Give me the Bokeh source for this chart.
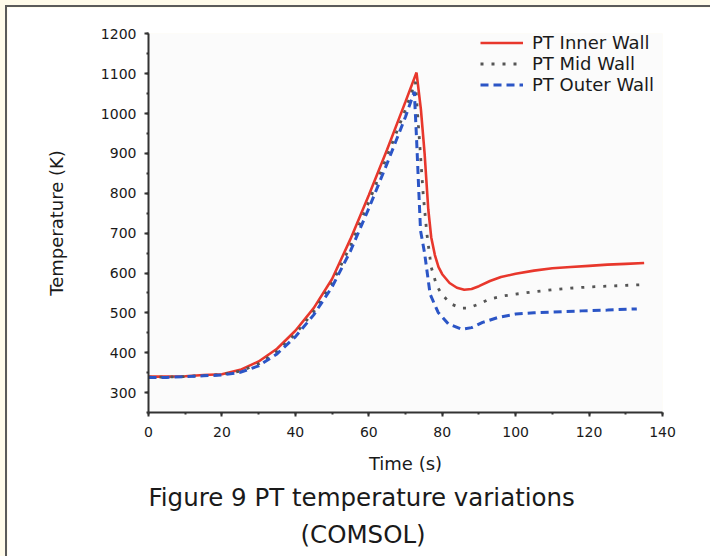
from bokeh.plotting import figure
from bokeh.models import Range1d, Legend, LegendItem, Title, FixedTicker, GlobalInlineStyleSheet
from bokeh.embed import file_html
from bokeh.resources import INLINE

# ---- data ----
t_inner = [0, 5, 10, 15, 20, 25, 30, 35, 40, 45, 50, 55, 60, 65, 70, 73.0, 74.2, 75.2, 76.2, 77,
           78, 79, 80, 82, 84, 86, 88, 90, 93, 96, 100, 105, 110, 115, 120, 125, 130, 135]
T_inner = [340, 340, 341, 344, 346, 357, 378, 410, 455, 512, 585, 685, 795, 910, 1030, 1103, 1010, 900, 760, 690,
           645, 615, 597, 575, 563, 558, 560, 567, 580, 590, 598, 606, 612, 615, 618, 621, 623, 625]

t_mid = [0, 5, 10, 15, 20, 25, 30, 35, 40, 45, 50, 55, 60, 65, 70, 72.7, 73.4, 74.2, 74.8, 75.8, 77,
         78.5, 80, 82.5, 85, 87, 90, 93, 97, 100, 105, 110, 115, 120, 125, 130, 135]
T_mid = [339, 339, 340, 343, 345, 354, 372, 403, 447, 503, 574, 668, 778, 893, 1010, 1080, 985, 880, 800, 700, 615,
         568, 545, 522, 512, 512, 522, 535, 543, 547, 553, 558, 562, 565, 567, 569, 571]

t_outer = [0, 5, 10, 15, 20, 25, 30, 35, 40, 45, 50, 55, 60, 65, 70, 72.4, 73.0, 73.6, 74.1, 75.2, 76.7,
           78.9, 81.7, 85.3, 88, 91, 95, 100, 105, 110, 118, 125, 133]
T_outer = [338, 338, 340, 342, 344, 351, 367, 397, 440, 495, 565, 655, 762, 875, 992, 1055, 940, 810, 706, 650, 547,
           501, 472, 459, 463, 476, 488, 497, 500, 502, 505, 507, 510]

series_names = ["PT Inner Wall", "PT Mid Wall", "PT Outer Wall"]
x_ticks = [0, 20, 40, 60, 80, 100, 120, 140]
y_ticks = [300, 400, 500, 600, 700, 800, 900, 1000, 1100, 1200]
caption_1 = "Figure 9 PT temperature variations"
caption_2 = "(COMSOL)"

FONT = "DejaVu Sans"

p = figure(width=705, height=551, output_backend="svg", toolbar_location=None,
           x_range=Range1d(0, 140), y_range=Range1d(250, 1201),
           min_border_left=141, min_border_right=50, min_border_top=26, min_border_bottom=146,
           background_fill_color="#fbfbfb", border_fill_color="#ffffff")
p.margin = (5, 0, 0, 5)
p.styles = {"border-top": "2px solid #5a5a5a", "border-left": "2px solid #5a5a5a"}
p.stylesheets = [GlobalInlineStyleSheet(css="html, body { background: #fffbea; }")]
p.outline_line_color = None
p.grid.visible = False

r1 = p.line(t_inner, T_inner, line_color="#e8372c", line_width=2.6)
r2 = p.line(t_mid, T_mid, line_color="#555555", line_width=2.8, line_dash="3 8")
r3 = p.line(t_outer, T_outer, line_color="#2b55c6", line_width=3, line_dash="8 5")

legend = Legend(items=[LegendItem(label=series_names[0], renderers=[r1]),
                       LegendItem(label=series_names[1], renderers=[r2]),
                       LegendItem(label=series_names[2], renderers=[r3])],
                location=(332, 317), padding=0, spacing=0, margin=0,
                glyph_width=43, glyph_height=21, label_height=21, label_standoff=9,
                label_text_font=FONT, label_text_font_size="18px", label_text_color="#1a1a1a",
                background_fill_alpha=0, border_line_color=None)
p.add_layout(legend)

for ax in (p.xaxis[0], p.yaxis[0]):
    ax.axis_line_color = "#333333"
    ax.axis_line_width = 2
    ax.major_tick_line_color = "#333333"
    ax.major_tick_line_width = 2
    ax.minor_tick_line_color = "#333333"
    ax.minor_tick_line_width = 2
    ax.major_tick_in = 0
    ax.major_tick_out = 4
    ax.minor_tick_in = 0
    ax.minor_tick_out = 2
    ax.major_label_text_font = FONT
    ax.major_label_text_font_size = "14px"
    ax.major_label_text_color = "#1a1a1a"
    ax.axis_label_text_font = FONT
    ax.axis_label_text_font_size = "18px"
    ax.axis_label_text_font_style = "normal"
    ax.axis_label_text_color = "#1a1a1a"

p.xaxis.ticker = FixedTicker(ticks=x_ticks, minor_ticks=list(range(0, 141, 10)))
p.yaxis.ticker = FixedTicker(ticks=y_ticks, minor_ticks=list(range(250, 1201, 50)))
p.xaxis.axis_label = "Time (s)"
p.yaxis.axis_label = "Temperature (K)"
p.xaxis.major_label_standoff = 10
p.yaxis.major_label_standoff = 8
p.xaxis.axis_label_standoff = 13
p.yaxis.axis_label_standoff = 31

t1 = Title(text=caption_1, align="left", offset=0, text_font=FONT, text_font_size="24.5px",
           text_font_style="normal", text_color="#1a1a1a", standoff=8)
t2 = Title(text=caption_2, align="left", offset=152, text_font=FONT, text_font_size="24.5px",
           text_font_style="normal", text_color="#1a1a1a", standoff=5)
p.add_layout(t1, "below")
p.add_layout(t2, "below")

open("out.html", "w").write(file_html(p, INLINE))
